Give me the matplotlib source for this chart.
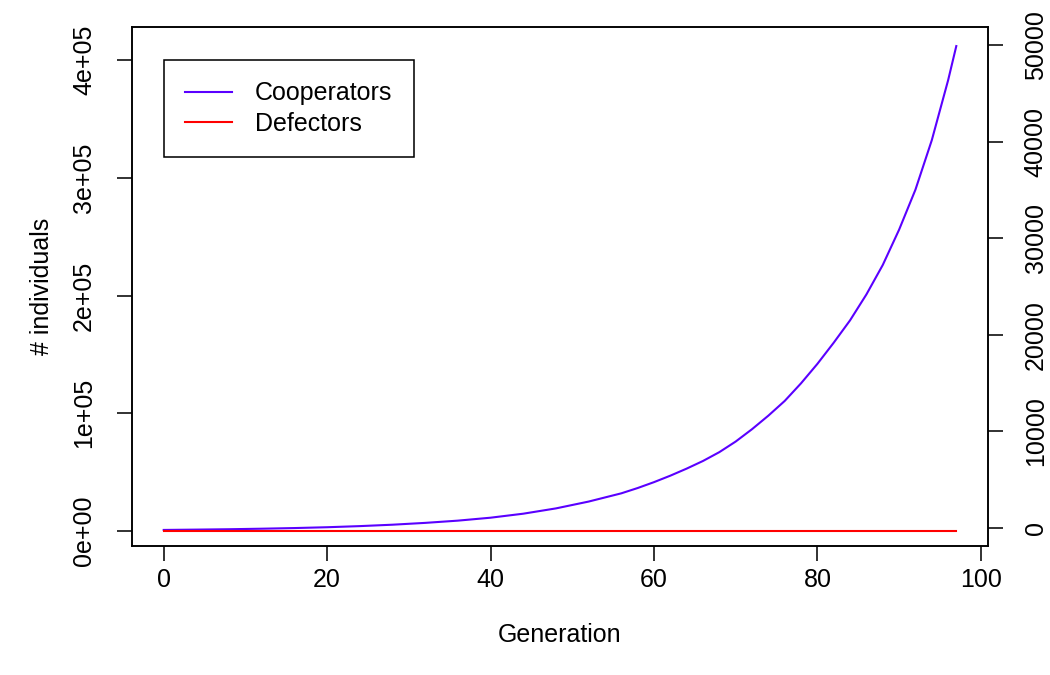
import numpy as np
import matplotlib
matplotlib.use("Agg")
import matplotlib.pyplot as plt

plt.rcParams['font.family'] = ['Liberation Sans', 'DejaVu Sans']
plt.rcParams['font.size'] = 12

# values
generation = [0, 4, 8, 12, 16, 20, 24, 28, 32, 36, 40, 44, 48, 52, 56, 58,
              60, 62, 64, 66, 68, 70, 72, 74, 76, 78, 80, 82, 84, 86, 88,
              90, 92, 94, 96, 97]
cooperators = [900, 1180, 1500, 1950, 2500, 3200, 4150, 5350, 6900, 8800,
               11300, 14700, 19200, 25000, 32000, 36500, 41500, 47000, 53000,
               59500, 67000, 76000, 86500, 98000, 110500, 125500, 142000,
               160000, 179000, 201000, 226000, 256000, 290000, 332000, 383000,
               412000]
defectors = [0] * len(generation)

left_ticks = [0, 100000, 200000, 300000, 400000]
left_labels = ['0e+00', '1e+05', '2e+05', '3e+05', '4e+05']
right_ticks = [0, 10000, 20000, 30000, 40000, 50000]
x_ticks = [0, 20, 40, 60, 80, 100]

fig = plt.figure(figsize=(7, 4.5), dpi=150)
ax = fig.add_axes([132/1050, 1 - 546/675, (988-132)/1050, (546-27)/675])

ax.plot(generation, cooperators, color='#5a00ff', lw=1.0, label='Cooperators')
ax.plot(generation, defectors, color='#ff0000', lw=1.0, label='Defectors')

ax.set_xlim(-3.88, 100.88)
ax.set_ylim(-12744, 428207)
ax.set_xticks(x_ticks)
ax.set_yticks(left_ticks)
ax.set_yticklabels(left_labels, rotation=90, va='center')
ax.set_xlabel('Generation', labelpad=14.5)
ax.set_ylabel('# individuals', labelpad=8.6)

ax2 = ax.twinx()
ax2.set_ylim(-1898, 51909)
ax2.set_yticks(right_ticks)
ax2.set_yticklabels([str(t) for t in right_ticks], rotation=90, va='center')

for a in (ax, ax2):
    for s in a.spines.values():
        s.set_linewidth(0.75)
        s.set_color('black')
    a.tick_params(direction='out', length=7.2, width=0.75, pad=10)
ax.tick_params(axis='x', pad=3.5)

leg = ax.legend(loc='upper left', bbox_to_anchor=(0, 400000), bbox_transform=ax.transData,
                frameon=True, fancybox=False, edgecolor='black', framealpha=1,
                borderaxespad=0, handlelength=1.9, handletextpad=0.9,
                borderpad=0.85, labelspacing=0.25)
leg.get_frame().set_linewidth(0.75)

fig.savefig('out.png', dpi=150)
